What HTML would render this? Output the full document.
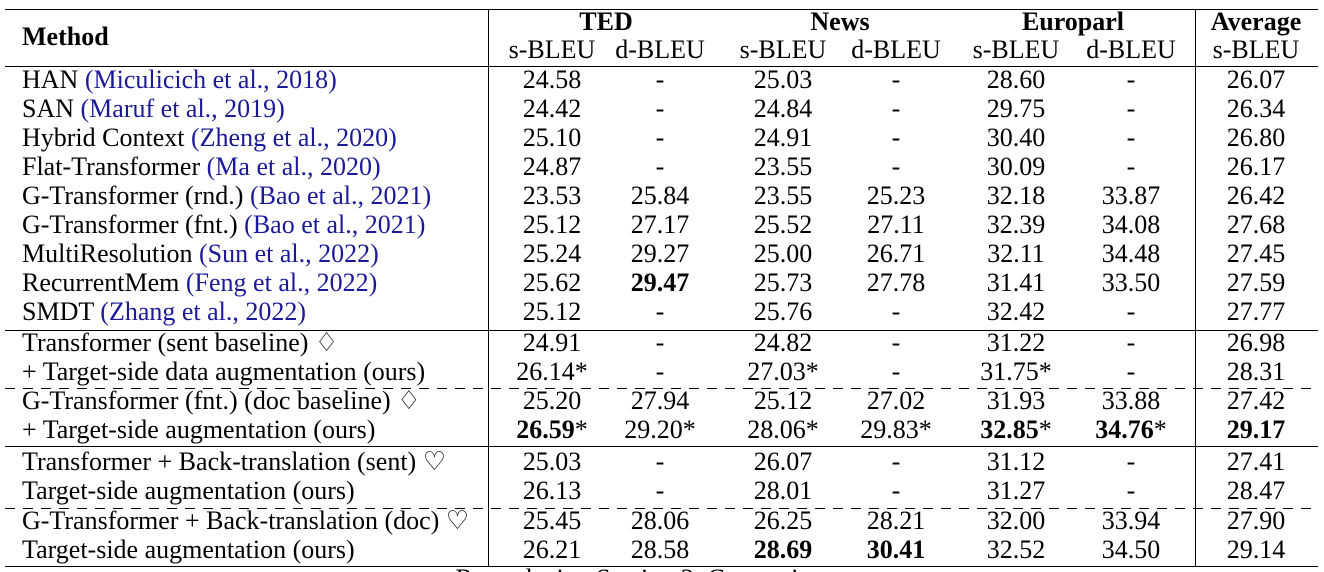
<!DOCTYPE html>
<html><head><meta charset="utf-8">
<style>
body{margin:0;background:#fff;}
#t{position:relative;width:1324px;height:572px;overflow:hidden;font-family:"Liberation Serif",serif;font-size:26px;color:#000;}
.c{position:absolute;white-space:nowrap;line-height:28px;height:28px;}
.hl{position:absolute;left:5px;width:1313px;border-top:1.3px solid #000;height:0;}
.dl{position:absolute;left:5px;width:1313px;height:1.3px;background:repeating-linear-gradient(90deg,#000 0 10px,transparent 10px 18px);}
.vl{position:absolute;width:0;border-left:1.3px solid #000;}
.b{font-weight:bold;}
.cite{color:#1a1a99;}
</style></head><body>
<div id="t">
<div class="hl" style="top:9px"></div>
<div class="hl" style="top:66px"></div>
<div class="hl" style="top:330px"></div>
<div class="dl" style="top:388px"></div>
<div class="hl" style="top:446px"></div>
<div class="dl" style="top:508px"></div>
<div class="hl" style="top:566px"></div>
<div class="vl" style="left:488px;top:9px;height:557px"></div>
<div class="vl" style="left:1195px;top:9px;height:557px"></div>
<div class="c b" style="left:22px;top:23px">Method</div>
<div class="c" style="left:395px;top:565px;width:500px;text-align:center">Reproducing Section 3: Comparison</div>
</div>
<script>
const groups=["TED","News","Europarl","Average"];
const groupCenters=[606,840,1073,1256];
const subHeads=["s-BLEU","d-BLEU","s-BLEU","d-BLEU","s-BLEU","d-BLEU","s-BLEU"];
const colX=[552,660,783,896,1016,1131,1256];
const methods=[
["HAN ","Miculicich et al., 2018"],["SAN ","Maruf et al., 2019"],["Hybrid Context ","Zheng et al., 2020"],
["Flat-Transformer ","Ma et al., 2020"],["G-Transformer (rnd.) ","Bao et al., 2021"],["G-Transformer (fnt.) ","Bao et al., 2021"],
["MultiResolution ","Sun et al., 2022"],["RecurrentMem ","Feng et al., 2022"],["SMDT ","Zhang et al., 2022"],
["Transformer (sent baseline) \u2662",""],["+ Target-side data augmentation (ours)",""],
["G-Transformer (fnt.) (doc baseline) \u2662",""],["+ Target-side augmentation (ours)",""],
["Transformer + Back-translation (sent) \u2661",""],["Target-side augmentation (ours)",""],
["G-Transformer + Back-translation (doc) \u2661",""],["Target-side augmentation (ours)",""]];
const values=[
["24.58","-","25.03","-","28.60","-","26.07"],
["24.42","-","24.84","-","29.75","-","26.34"],
["25.10","-","24.91","-","30.40","-","26.80"],
["24.87","-","23.55","-","30.09","-","26.17"],
["23.53","25.84","23.55","25.23","32.18","33.87","26.42"],
["25.12","27.17","25.52","27.11","32.39","34.08","27.68"],
["25.24","29.27","25.00","26.71","32.11","34.48","27.45"],
["25.62","**29.47","25.73","27.78","31.41","33.50","27.59"],
["25.12","-","25.76","-","32.42","-","27.77"],
["24.91","-","24.82","-","31.22","-","26.98"],
["26.14*","-","27.03*","-","31.75*","-","28.31"],
["25.20","27.94","25.12","27.02","31.93","33.88","27.42"],
["**26.59*","29.20*","28.06*","29.83*","**32.85*","**34.76*","**29.17"],
["25.03","-","26.07","-","31.12","-","27.41"],
["26.13","-","28.01","-","31.27","-","28.47"],
["25.45","28.06","26.25","28.21","32.00","33.94","27.90"],
["26.21","28.58","**28.69","**30.41","32.52","34.50","29.14"]];
const rowY=[80,109,138,167,196,225,254,283,312,343,372,401,430,462,491,521,550];
const T=document.getElementById('t');
function cell(txt,cx,cy,cls){const d=document.createElement('div');d.className='c '+(cls||'');d.style.left=(cx-150)+'px';d.style.width='300px';d.style.textAlign='center';d.style.top=(cy-14)+'px';d.innerHTML=txt;T.appendChild(d);return d;}
groups.forEach((g,i)=>{const d=cell(g,groupCenters[i],22,'b');

});
subHeads.forEach((s,i)=>{const d=cell(s,colX[i],50);

});
methods.forEach((m,r)=>{const d=document.createElement('div');d.className='c';d.style.left='22px';d.style.top=(rowY[r]-14)+'px';
d.innerHTML=m[0]+(m[1]?'<span class="cite">('+m[1]+')</span>':'');


T.appendChild(d);});
values.forEach((row,r)=>row.forEach((v,c)=>{let h=v;if(v.startsWith('**')){const s=v.slice(2);const star=s.endsWith('*');h='<b>'+(star?s.slice(0,-1):s)+'</b>'+(star?'*':'');}
const d=cell(h,colX[c],rowY[r]);

}));
</script>
</body></html>
